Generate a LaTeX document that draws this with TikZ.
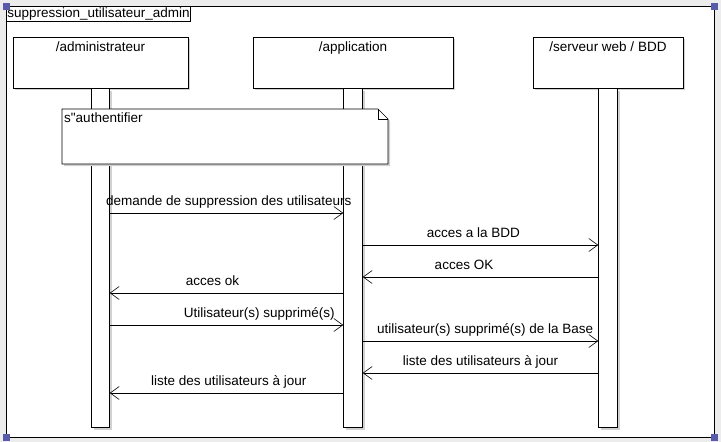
\documentclass[tikz,border=0pt]{standalone}
\usepackage{fontspec}
\setmainfont{Liberation Sans}
\newfontfamily\plainfont{Liberation Sans}
\usetikzlibrary{arrows.meta,shadows}
\definecolor{paneback}{RGB}{236,236,236}
\definecolor{handleblue}{RGB}{90,90,170}

\begin{document}
\begin{tikzpicture}[x=1pt,y=-1pt,
		every node/.style={font=\fontsize{13.5}{16}\selectfont},
		boxshadow/.style={drop shadow={shadow xshift=2pt,shadow yshift=-2pt,fill=black!18,opacity=1}},
		headbox/.style={draw, fill=white, minimum height=51pt, inner sep=0pt, anchor=north, boxshadow},
		actbar/.style={draw, fill=white, minimum width=18pt, minimum height=339pt, inner sep=0pt, anchor=north, boxshadow},
		msg/.style={line width=0.6pt, -{Straight Barb[length=9pt,width=13pt,line width=0.6pt]}},
		msglabel/.style={above=7pt, inner sep=0pt, text depth=0pt},
		handle/.style={fill=handleblue, minimum size=7pt, inner sep=0pt}]
		% background and frame
		\fill[paneback] (0,0) rectangle (721,442);
		\draw[fill=white, line width=0.8pt] (6,6) rectangle (714,437);
		\node[draw, anchor=north west, inner sep=1pt, line width=0.8pt] (titlebox) at (6,6) {suppression\_utilisateur\_admin};

		% lifelines
		\node[headbox, minimum width=175pt] (adminhead) at (100.5,37) {};
		\node[headbox, minimum width=200pt] (apphead) at (353,37) {};
		\node[headbox, minimum width=150pt] (serverhead) at (608,37) {};
		\node[below=1pt] (adminname) at (adminhead.north) {/administrateur};
		\node[below=1pt] (appname) at (apphead.north) {/application};
		\node[below=1pt] (servername) at (serverhead.north) {/serveur web / BDD};
		\node[actbar] (adminbar) at (adminhead.south) {};
		\node[actbar, minimum width=19pt] (appbar) at (apphead.south) {};
		\node[actbar, minimum width=19pt] (serverbar) at (serverhead.south) {};

		% note
		\draw[fill=white, line width=0.7pt, boxshadow] (62,109) -- (378,109) -- (388,119) -- (388,164) -- (62,164) -- cycle;
		\draw[line width=0.6pt] (378,109) -- (378,119) -- (388,119);
		\node[anchor=north west, inner sep=2pt, font=\plainfont\fontsize{13.5}{16}\selectfont] (authnote) at (62,111) {s"authentifier};

		% messages
		\draw[msg] (adminbar.east |- 0,213) -- node[msglabel, pos=0.51] (m1) {demande de suppression des utilisateurs} (appbar.west |- 0,213);
		\draw[msg] (appbar.east |- 0,245) -- node[msglabel, pos=0.47] (m2) {acces a la BDD} (serverbar.west |- 0,245);
		\draw[msg] (serverbar.west |- 0,277) -- node[msglabel, pos=0.57] (m3) {acces OK} (appbar.east |- 0,277);
		\draw[msg] (appbar.west |- 0,293) -- node[msglabel, pos=0.56] (m4) {acces ok} (adminbar.east |- 0,293);
		\draw[msg] (adminbar.east |- 0,325) -- node[msglabel, pos=0.64] (m5) {Utilisateur(s) supprimé(s)} (appbar.west |- 0,325);
		\draw[msg] (appbar.east |- 0,341) -- node[msglabel, pos=0.52] (m6) {utilisateur(s) supprimé(s) de la Base} (serverbar.west |- 0,341);
		\draw[msg] (serverbar.west |- 0,373) -- node[msglabel, pos=0.50] (m7) {liste des utilisateurs à jour} (appbar.east |- 0,373);
		\draw[msg] (appbar.west |- 0,393) -- node[msglabel, pos=0.49] (m8) {liste des utilisateurs à jour} (adminbar.east |- 0,393);

		% selection handles
		\node[handle] (handlenw) at (6,6) {};
		\node[handle] (handlene) at (714,6) {};
		\node[handle] (handlesw) at (6,437) {};
		\node[handle] (handlese) at (714,437) {};
		\useasboundingbox (0,0) rectangle (721,442);
\end{tikzpicture}
\end{document}
